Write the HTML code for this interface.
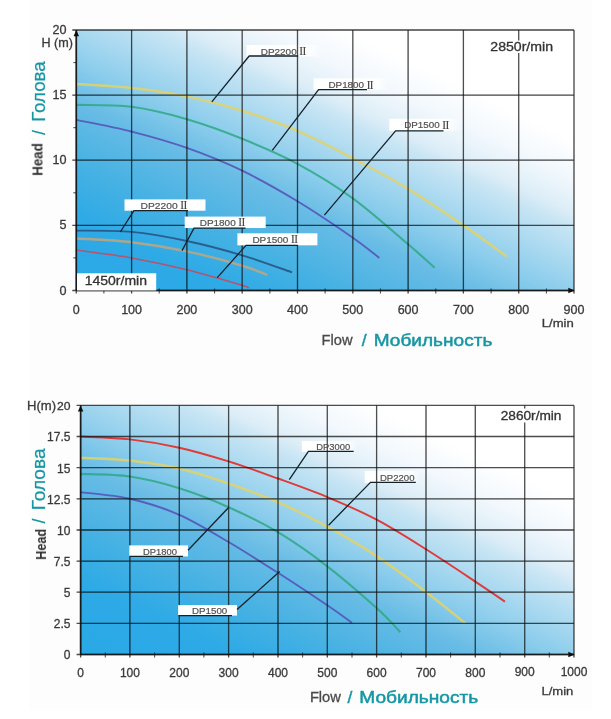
<!DOCTYPE html>
<html><head><meta charset="utf-8"><title>Pump curves</title>
<style>html,body{margin:0;padding:0;background:#fff}svg{display:block}text{font-family:"Liberation Sans",sans-serif}text.rom{font-family:"Liberation Serif",serif}</style>
</head><body>
<svg width="611" height="719" viewBox="0 0 611 719">
<defs>
<linearGradient id="g1" gradientUnits="userSpaceOnUse" x1="76.3" y1="290.5" x2="269.4" y2="-115"><stop offset="0" stop-color="#29a9e6"/><stop offset="0.15" stop-color="#2eaae6"/><stop offset="0.25" stop-color="#45b1e3"/><stop offset="0.38" stop-color="#68bce5"/><stop offset="0.46" stop-color="#8ccdec"/><stop offset="0.6" stop-color="#c8e5f4"/><stop offset="0.63" stop-color="#dcedf7"/><stop offset="0.70" stop-color="#f2f8fd"/><stop offset="0.78" stop-color="#ffffff"/></linearGradient>
<linearGradient id="g2" gradientUnits="userSpaceOnUse" x1="80.6" y1="654.5" x2="273.6" y2="249.1"><stop offset="0" stop-color="#29a9e6"/><stop offset="0.15" stop-color="#2eaae6"/><stop offset="0.25" stop-color="#45b1e3"/><stop offset="0.38" stop-color="#68bce5"/><stop offset="0.46" stop-color="#8ccdec"/><stop offset="0.6" stop-color="#c8e5f4"/><stop offset="0.63" stop-color="#dcedf7"/><stop offset="0.70" stop-color="#f2f8fd"/><stop offset="0.78" stop-color="#ffffff"/></linearGradient>
<linearGradient id="fade" x1="0" y1="0" x2="1" y2="0"><stop offset="0" stop-color="#fff" stop-opacity="1"/><stop offset="0.8" stop-color="#fff" stop-opacity="1"/><stop offset="1" stop-color="#fff" stop-opacity="0"/></linearGradient>
<filter id="b" x="-5%" y="-5%" width="110%" height="110%"><feGaussianBlur stdDeviation="0.45"/></filter>
<filter id="b2" x="-5%" y="-5%" width="110%" height="110%"><feGaussianBlur stdDeviation="0.6"/></filter>
<filter id="tb" x="-5%" y="-20%" width="110%" height="140%"><feGaussianBlur stdDeviation="0.35"/></filter>
</defs>
<rect width="611" height="719" fill="#fff"/>
<rect x="29" y="0" width="563" height="710" fill="#fdfdfd"/>
<rect x="76.3" y="30.0" width="497.7" height="260.5" fill="url(#g1)"/>
<rect x="246.6" y="45.0" width="76.0" height="11.5" fill="url(#fade)"/>
<rect x="313.6" y="78.3" width="76.0" height="11.7" fill="url(#fade)"/>
<rect x="389.3" y="118.8" width="72.0" height="12.1" fill="url(#fade)"/>
<g filter="url(#b2)">
<path d="M76.3,84.1 C85.5,84.7 113.2,85.9 131.6,88.0 C150.0,90.0 168.5,92.6 186.9,96.4 C205.3,100.2 223.8,105.0 242.2,110.8 C260.6,116.5 279.1,123.0 297.5,130.9 C315.9,138.9 334.4,148.6 352.8,158.3 C371.2,168.0 389.7,177.7 408.1,188.9 C426.5,200.1 446.9,214.1 463.4,225.4 C479.9,236.7 499.8,251.4 507.1,256.6" fill="none" stroke="#e3d266" stroke-width="2.5" stroke-linecap="butt" stroke-opacity="0.85"/>
<path d="M76.3,104.9 C85.5,105.2 113.2,104.5 131.6,106.8 C150.0,109.2 168.5,113.9 186.9,119.2 C205.3,124.5 223.8,131.3 242.2,138.8 C260.6,146.2 279.1,153.8 297.5,163.8 C315.9,173.7 334.4,184.9 352.8,198.3 C371.2,211.7 394.5,232.7 408.1,244.3 C421.7,255.8 430.2,263.8 434.6,267.7" fill="none" stroke="#2fa884" stroke-width="2.1" stroke-linecap="butt" stroke-opacity="0.85"/>
<path d="M76.3,119.9 C85.5,121.8 113.2,126.9 131.6,131.6 C150.0,136.3 168.5,141.4 186.9,147.9 C205.3,154.4 223.8,161.8 242.2,170.7 C260.6,179.6 279.1,190.1 297.5,201.3 C315.9,212.5 339.2,228.3 352.8,237.7 C366.4,247.2 374.9,254.6 379.3,257.9" fill="none" stroke="#5450b6" stroke-width="1.9" stroke-linecap="butt" stroke-opacity="0.85"/>
<path d="M76.3,230.6 C85.5,230.8 113.2,230.2 131.6,231.9 C150.0,233.6 168.5,237.1 186.9,241.0 C205.3,244.9 224.7,250.1 242.2,255.3 C259.7,260.5 283.7,269.4 292.0,272.3" fill="none" stroke="#27507f" stroke-width="1.9" stroke-linecap="butt" stroke-opacity="0.85"/>
<path d="M76.3,238.4 C85.5,239.1 113.2,240.1 131.6,242.3 C150.0,244.5 168.5,247.5 186.9,251.4 C205.3,255.3 228.8,261.8 242.2,265.8 C255.6,269.7 262.9,273.4 267.1,274.9" fill="none" stroke="#c2a67e" stroke-width="2.5" stroke-linecap="butt" stroke-opacity="0.85"/>
<path d="M76.3,250.1 C85.5,251.4 113.2,254.7 131.6,257.9 C150.0,261.2 168.5,265.1 186.9,269.7 C205.3,274.2 232.1,282.3 242.2,285.3 C252.3,288.3 246.8,287.5 247.7,287.9" fill="none" stroke="#cc4458" stroke-width="1.5" stroke-linecap="butt" stroke-opacity="0.85"/>
</g>
<g filter="url(#b)" stroke-opacity="0.74">
<line x1="76.3" y1="30.0" x2="76.3" y2="293.5" stroke="#0c0c0c" stroke-width="1.3"/>
<line x1="131.6" y1="30.0" x2="131.6" y2="293.5" stroke="#0c0c0c" stroke-width="1.3"/>
<line x1="186.9" y1="30.0" x2="186.9" y2="293.5" stroke="#0c0c0c" stroke-width="1.3"/>
<line x1="242.2" y1="30.0" x2="242.2" y2="293.5" stroke="#0c0c0c" stroke-width="1.3"/>
<line x1="297.5" y1="30.0" x2="297.5" y2="293.5" stroke="#0c0c0c" stroke-width="1.3"/>
<line x1="352.8" y1="30.0" x2="352.8" y2="293.5" stroke="#0c0c0c" stroke-width="1.3"/>
<line x1="408.1" y1="30.0" x2="408.1" y2="293.5" stroke="#0c0c0c" stroke-width="1.3"/>
<line x1="463.4" y1="30.0" x2="463.4" y2="293.5" stroke="#0c0c0c" stroke-width="1.3"/>
<line x1="518.7" y1="30.0" x2="518.7" y2="293.5" stroke="#0c0c0c" stroke-width="1.3"/>
<line x1="574.0" y1="30.0" x2="574.0" y2="293.5" stroke="#0c0c0c" stroke-width="1.3"/>
<line x1="72.3" y1="290.5" x2="574.0" y2="290.5" stroke="#0c0c0c" stroke-width="1.3"/>
<line x1="72.3" y1="225.4" x2="574.0" y2="225.4" stroke="#0c0c0c" stroke-width="1.3"/>
<line x1="72.3" y1="160.2" x2="574.0" y2="160.2" stroke="#0c0c0c" stroke-width="1.3"/>
<line x1="72.3" y1="95.1" x2="574.0" y2="95.1" stroke="#0c0c0c" stroke-width="1.3"/>
<line x1="72.3" y1="30.0" x2="574.0" y2="30.0" stroke="#0c0c0c" stroke-width="1.3"/>
<line x1="103.9" y1="288.5" x2="103.9" y2="293.5" stroke="#0c0c0c" stroke-width="1"/>
<line x1="159.2" y1="288.5" x2="159.2" y2="293.5" stroke="#0c0c0c" stroke-width="1"/>
<line x1="214.6" y1="288.5" x2="214.6" y2="293.5" stroke="#0c0c0c" stroke-width="1"/>
<line x1="269.9" y1="288.5" x2="269.9" y2="293.5" stroke="#0c0c0c" stroke-width="1"/>
<line x1="325.1" y1="288.5" x2="325.1" y2="293.5" stroke="#0c0c0c" stroke-width="1"/>
<line x1="380.4" y1="288.5" x2="380.4" y2="293.5" stroke="#0c0c0c" stroke-width="1"/>
<line x1="435.8" y1="288.5" x2="435.8" y2="293.5" stroke="#0c0c0c" stroke-width="1"/>
<line x1="491.1" y1="288.5" x2="491.1" y2="293.5" stroke="#0c0c0c" stroke-width="1"/>
<line x1="546.4" y1="288.5" x2="546.4" y2="293.5" stroke="#0c0c0c" stroke-width="1"/>
<line x1="73.3" y1="257.9" x2="76.3" y2="257.9" stroke="#0c0c0c" stroke-width="1"/>
<line x1="73.3" y1="192.8" x2="76.3" y2="192.8" stroke="#0c0c0c" stroke-width="1"/>
<line x1="73.3" y1="127.7" x2="76.3" y2="127.7" stroke="#0c0c0c" stroke-width="1"/>
<line x1="73.3" y1="62.6" x2="76.3" y2="62.6" stroke="#0c0c0c" stroke-width="1"/>
<line x1="76.3" y1="30.0" x2="76.3" y2="290.5" stroke="#0c0c0c" stroke-width="1.7"/>
<line x1="76.3" y1="290.5" x2="574.0" y2="290.5" stroke="#0c0c0c" stroke-width="1.6"/>
<path d="M76.3,30.0 l-2.7,6.2 h5.4z" fill="#0c0c0c"/>
<path d="M574.5,290.5 l-6.2,-2.7 v5.4z" fill="#0c0c0c"/>
<rect x="488.0" y="40.5" width="68.0" height="12.5" fill="#fff"/>
<rect x="124.5" y="199.4" width="81.0" height="11.3" fill="#fff"/>
<rect x="184.7" y="216.6" width="81.0" height="11.4" fill="#fff"/>
<rect x="237.4" y="233.3" width="80.0" height="12.0" fill="#fff"/>
<rect x="77.0" y="273.3" width="79.2" height="17.2" fill="#fff"/>
<polyline points="298.2,56 249.2,56 211.8,101.8" fill="none" stroke="#14222c" stroke-width="1.3" stroke-opacity="1"/>
<polyline points="367,89.6 318.6,89.6 272.3,150.3" fill="none" stroke="#14222c" stroke-width="1.3" stroke-opacity="1"/>
<polyline points="443.5,130.9 395.6,130.9 324.4,215.2" fill="none" stroke="#14222c" stroke-width="1.3" stroke-opacity="1"/>
<polyline points="188,210.7 133.9,210.7 120.3,232" fill="none" stroke="#14222c" stroke-width="1.3" stroke-opacity="1"/>
<polyline points="245.5,228.2 194,228.2 182,250.6" fill="none" stroke="#14222c" stroke-width="1.3" stroke-opacity="1"/>
<polyline points="298,245.3 246,245.3 217.3,277.6" fill="none" stroke="#14222c" stroke-width="1.3" stroke-opacity="1"/>
</g>
<g filter="url(#tb)">
<text x="66.5" y="294.7" font-size="12.6" fill="#3a3a3a" stroke="#3a3a3a" stroke-width="0.3" text-anchor="end">0</text>
<text x="66.5" y="229.4" font-size="12.6" fill="#3a3a3a" stroke="#3a3a3a" stroke-width="0.3" text-anchor="end">5</text>
<text x="66.5" y="164.2" font-size="12.6" fill="#3a3a3a" stroke="#3a3a3a" stroke-width="0.3" text-anchor="end">10</text>
<text x="66.5" y="99.0" font-size="12.6" fill="#3a3a3a" stroke="#3a3a3a" stroke-width="0.3" text-anchor="end">15</text>
<text x="66.5" y="33.7" font-size="12.6" fill="#3a3a3a" stroke="#3a3a3a" stroke-width="0.3" text-anchor="end">20</text>
<text x="41.5" y="47" font-size="12" fill="#3a3a3a" stroke="#3a3a3a" stroke-width="0.3" textLength="31.5" lengthAdjust="spacingAndGlyphs">H (m)</text>
<text x="76.3" y="313.8" font-size="12.5" fill="#3a3a3a" stroke="#3a3a3a" stroke-width="0.3" text-anchor="middle">0</text>
<text x="131.6" y="313.8" font-size="12.5" fill="#3a3a3a" stroke="#3a3a3a" stroke-width="0.3" text-anchor="middle">100</text>
<text x="186.9" y="313.8" font-size="12.5" fill="#3a3a3a" stroke="#3a3a3a" stroke-width="0.3" text-anchor="middle">200</text>
<text x="242.2" y="313.8" font-size="12.5" fill="#3a3a3a" stroke="#3a3a3a" stroke-width="0.3" text-anchor="middle">300</text>
<text x="297.5" y="313.8" font-size="12.5" fill="#3a3a3a" stroke="#3a3a3a" stroke-width="0.3" text-anchor="middle">400</text>
<text x="352.8" y="313.8" font-size="12.5" fill="#3a3a3a" stroke="#3a3a3a" stroke-width="0.3" text-anchor="middle">500</text>
<text x="408.1" y="313.8" font-size="12.5" fill="#3a3a3a" stroke="#3a3a3a" stroke-width="0.3" text-anchor="middle">600</text>
<text x="463.4" y="313.8" font-size="12.5" fill="#3a3a3a" stroke="#3a3a3a" stroke-width="0.3" text-anchor="middle">700</text>
<text x="518.7" y="313.8" font-size="12.5" fill="#3a3a3a" stroke="#3a3a3a" stroke-width="0.3" text-anchor="middle">800</text>
<text x="574.0" y="313.8" font-size="12.5" fill="#3a3a3a" stroke="#3a3a3a" stroke-width="0.3" text-anchor="middle">900</text>
<text x="541.8" y="326.8" font-size="11.5" fill="#3a3a3a" stroke="#3a3a3a" stroke-width="0.3" textLength="32" lengthAdjust="spacingAndGlyphs">L/min</text>
<text x="490.3" y="51" font-size="12.5" fill="#333" stroke="#333" stroke-width="0.3" textLength="62.7" lengthAdjust="spacingAndGlyphs">2850r/min</text>
<text x="84.7" y="285.2" font-size="12.1" fill="#333" stroke="#333" stroke-width="0.3" textLength="62.3" lengthAdjust="spacingAndGlyphs">1450r/min</text>
<text x="260.7" y="54.6" font-size="9.8" fill="#505050" stroke="#505050" stroke-width="0.2"><tspan textLength="36" lengthAdjust="spacingAndGlyphs">DP2200</tspan></text>
<text x="299.09999999999997" y="55.0" font-size="12.8" fill="#454545" class="rom" letter-spacing="-1.1">II</text>
<text x="328.5" y="88.3" font-size="9.8" fill="#505050" stroke="#505050" stroke-width="0.2"><tspan textLength="35.5" lengthAdjust="spacingAndGlyphs">DP1800</tspan></text>
<text x="366.4" y="88.7" font-size="12.8" fill="#454545" class="rom" letter-spacing="-1.1">II</text>
<text x="404.2" y="128.3" font-size="9.8" fill="#505050" stroke="#505050" stroke-width="0.2"><tspan textLength="35.5" lengthAdjust="spacingAndGlyphs">DP1500</tspan></text>
<text x="442.09999999999997" y="128.70000000000002" font-size="12.8" fill="#454545" class="rom" letter-spacing="-1.1">II</text>
<text x="140.6" y="208.6" font-size="9.8" fill="#505050" stroke="#505050" stroke-width="0.2"><tspan textLength="37" lengthAdjust="spacingAndGlyphs">DP2200</tspan></text>
<text x="180.0" y="209.0" font-size="12.8" fill="#454545" class="rom" letter-spacing="-1.1">II</text>
<text x="199.7" y="225.6" font-size="9.8" fill="#505050" stroke="#505050" stroke-width="0.2"><tspan textLength="36" lengthAdjust="spacingAndGlyphs">DP1800</tspan></text>
<text x="238.1" y="226.0" font-size="12.8" fill="#454545" class="rom" letter-spacing="-1.1">II</text>
<text x="252.4" y="242.8" font-size="9.8" fill="#505050" stroke="#505050" stroke-width="0.2"><tspan textLength="36" lengthAdjust="spacingAndGlyphs">DP1500</tspan></text>
<text x="290.79999999999995" y="243.20000000000002" font-size="12.8" fill="#454545" class="rom" letter-spacing="-1.1">II</text>
</g>
<text transform="translate(44.6,121.8) rotate(-90)" font-size="18" fill="#1596a4" stroke="#1596a4" stroke-width="0.25" stroke-linejoin="round" textLength="60.5" lengthAdjust="spacingAndGlyphs">Голова</text>
<text transform="translate(44.6,135) rotate(-90)" font-size="18" fill="#1596a4" stroke="#1596a4" stroke-width="0.25" stroke-linejoin="round">/</text>
<text transform="translate(42.5,175.8) rotate(-90)" font-size="15" fill="#303030" font-weight="bold" textLength="32.6" lengthAdjust="spacingAndGlyphs" filter="url(#tb)">Head</text>
<text x="321.5" y="345.2" font-size="14.5" fill="#4a4a4a" stroke="#4a4a4a" stroke-width="0.3" textLength="31" lengthAdjust="spacingAndGlyphs" filter="url(#tb)">Flow</text>
<text x="361.7" y="346.2" font-size="17.4" fill="#1596a4" stroke="#1596a4" stroke-width="0.5" stroke-linejoin="round">/</text>
<text x="373.8" y="346.2" font-size="17.4" fill="#1596a4" stroke="#1596a4" stroke-width="0.5" stroke-linejoin="round" textLength="118.5" lengthAdjust="spacingAndGlyphs">Мобильность</text>
<rect x="80.6" y="405.4" width="493.4" height="249.10000000000002" fill="url(#g2)"/>
<rect x="301.9" y="441.0" width="56.0" height="11.0" fill="url(#fade)"/>
<rect x="364.7" y="471.0" width="56.0" height="11.8" fill="url(#fade)"/>
<g filter="url(#b2)">
<path d="M80.6,436.5 C88.8,437.0 113.5,437.5 129.9,439.4 C146.4,441.3 162.8,444.1 179.3,447.7 C195.7,451.4 212.2,456.3 228.6,461.4 C245.1,466.6 261.5,472.6 278.0,478.5 C294.4,484.4 310.9,490.2 327.3,497.1 C343.7,503.9 360.2,511.0 376.6,519.7 C393.1,528.4 409.5,538.9 426.0,549.3 C442.4,559.6 462.2,572.9 475.3,581.6 C488.5,590.4 500.0,598.2 504.9,601.6" fill="none" stroke="#e2332f" stroke-width="1.9" stroke-linecap="butt" stroke-opacity="0.95"/>
<path d="M80.6,457.7 C88.8,458.2 113.5,458.6 129.9,460.5 C146.4,462.3 162.8,464.7 179.3,468.5 C195.7,472.4 212.2,477.9 228.6,483.5 C245.1,489.1 261.5,495.0 278.0,502.2 C294.4,509.4 310.9,517.6 327.3,526.6 C343.7,535.6 360.2,545.2 376.6,556.1 C393.1,567.0 411.2,580.6 426.0,591.9 C440.8,603.1 458.9,618.1 465.5,623.4" fill="none" stroke="#e3d266" stroke-width="2.5" stroke-linecap="butt" stroke-opacity="0.85"/>
<path d="M80.6,473.9 C88.8,474.3 113.5,474.1 129.9,476.5 C146.4,478.9 162.8,483.1 179.3,488.2 C195.7,493.3 212.2,499.8 228.6,507.2 C245.1,514.5 261.5,522.3 278.0,532.2 C294.4,542.1 310.9,553.7 327.3,566.3 C343.7,579.0 364.5,597.1 376.6,608.0 C388.8,619.0 396.4,628.2 400.3,632.2" fill="none" stroke="#2fa884" stroke-width="2.1" stroke-linecap="butt" stroke-opacity="0.85"/>
<path d="M80.6,492.1 C88.8,493.2 113.5,495.0 129.9,498.8 C146.4,502.6 162.8,507.6 179.3,514.8 C195.7,522.0 212.2,532.4 228.6,542.0 C245.1,551.7 261.5,562.2 278.0,572.8 C294.4,583.3 315.0,597.0 327.3,605.3 C339.6,613.6 347.9,619.8 352.0,622.7" fill="none" stroke="#5450b6" stroke-width="1.9" stroke-linecap="butt" stroke-opacity="0.85"/>
</g>
<g filter="url(#b)" stroke-opacity="0.74">
<line x1="80.6" y1="405.4" x2="80.6" y2="657.5" stroke="#0c0c0c" stroke-width="1.3"/>
<line x1="129.9" y1="405.4" x2="129.9" y2="657.5" stroke="#0c0c0c" stroke-width="1.3"/>
<line x1="179.3" y1="405.4" x2="179.3" y2="657.5" stroke="#0c0c0c" stroke-width="1.3"/>
<line x1="228.6" y1="405.4" x2="228.6" y2="657.5" stroke="#0c0c0c" stroke-width="1.3"/>
<line x1="278.0" y1="405.4" x2="278.0" y2="657.5" stroke="#0c0c0c" stroke-width="1.3"/>
<line x1="327.3" y1="405.4" x2="327.3" y2="657.5" stroke="#0c0c0c" stroke-width="1.3"/>
<line x1="376.6" y1="405.4" x2="376.6" y2="657.5" stroke="#0c0c0c" stroke-width="1.3"/>
<line x1="426.0" y1="405.4" x2="426.0" y2="657.5" stroke="#0c0c0c" stroke-width="1.3"/>
<line x1="475.3" y1="405.4" x2="475.3" y2="657.5" stroke="#0c0c0c" stroke-width="1.3"/>
<line x1="524.7" y1="405.4" x2="524.7" y2="657.5" stroke="#0c0c0c" stroke-width="1.3"/>
<line x1="574.0" y1="405.4" x2="574.0" y2="657.5" stroke="#0c0c0c" stroke-width="1.3"/>
<line x1="76.6" y1="654.5" x2="574.0" y2="654.5" stroke="#0c0c0c" stroke-width="1.3"/>
<line x1="76.6" y1="623.4" x2="574.0" y2="623.4" stroke="#0c0c0c" stroke-width="1.3"/>
<line x1="76.6" y1="592.2" x2="574.0" y2="592.2" stroke="#0c0c0c" stroke-width="1.3"/>
<line x1="76.6" y1="561.1" x2="574.0" y2="561.1" stroke="#0c0c0c" stroke-width="1.3"/>
<line x1="76.6" y1="530.0" x2="574.0" y2="530.0" stroke="#0c0c0c" stroke-width="1.3"/>
<line x1="76.6" y1="498.8" x2="574.0" y2="498.8" stroke="#0c0c0c" stroke-width="1.3"/>
<line x1="76.6" y1="467.7" x2="574.0" y2="467.7" stroke="#0c0c0c" stroke-width="1.3"/>
<line x1="76.6" y1="436.5" x2="574.0" y2="436.5" stroke="#0c0c0c" stroke-width="1.3"/>
<line x1="76.6" y1="405.4" x2="574.0" y2="405.4" stroke="#0c0c0c" stroke-width="1.3"/>
<line x1="105.3" y1="652.5" x2="105.3" y2="657.5" stroke="#0c0c0c" stroke-width="1"/>
<line x1="154.6" y1="652.5" x2="154.6" y2="657.5" stroke="#0c0c0c" stroke-width="1"/>
<line x1="203.9" y1="652.5" x2="203.9" y2="657.5" stroke="#0c0c0c" stroke-width="1"/>
<line x1="253.3" y1="652.5" x2="253.3" y2="657.5" stroke="#0c0c0c" stroke-width="1"/>
<line x1="302.6" y1="652.5" x2="302.6" y2="657.5" stroke="#0c0c0c" stroke-width="1"/>
<line x1="352.0" y1="652.5" x2="352.0" y2="657.5" stroke="#0c0c0c" stroke-width="1"/>
<line x1="401.3" y1="652.5" x2="401.3" y2="657.5" stroke="#0c0c0c" stroke-width="1"/>
<line x1="450.6" y1="652.5" x2="450.6" y2="657.5" stroke="#0c0c0c" stroke-width="1"/>
<line x1="500.0" y1="652.5" x2="500.0" y2="657.5" stroke="#0c0c0c" stroke-width="1"/>
<line x1="549.3" y1="652.5" x2="549.3" y2="657.5" stroke="#0c0c0c" stroke-width="1"/>
<line x1="80.6" y1="405.4" x2="80.6" y2="654.5" stroke="#0c0c0c" stroke-width="1.7"/>
<line x1="80.6" y1="654.5" x2="574.0" y2="654.5" stroke="#0c0c0c" stroke-width="1.6"/>
<path d="M80.6,405.4 l-2.7,6.2 h5.4z" fill="#0c0c0c"/>
<path d="M574.5,654.5 l-6.2,-2.7 v5.4z" fill="#0c0c0c"/>
<rect x="129.2" y="545.4" width="58.8" height="11.0" fill="#fff"/>
<rect x="178.1" y="605.1" width="58.9" height="10.5" fill="#fff"/>
<rect x="498.0" y="408.5" width="66.0" height="14.0" fill="#fff"/>
<polyline points="353.7,451.4 308.4,451.4 289.3,479.7" fill="none" stroke="#14222c" stroke-width="1.3" stroke-opacity="1"/>
<polyline points="415.8,482.3 370.5,482.3 328.6,525.2" fill="none" stroke="#14222c" stroke-width="1.3" stroke-opacity="1"/>
<polyline points="129.5,556.4 183,556.4" fill="none" stroke="#14222c" stroke-width="1.3" stroke-opacity="1"/>
<polyline points="188,550.2 228.6,507.5" fill="none" stroke="#14222c" stroke-width="1.3" stroke-opacity="1"/>
<polyline points="178.3,615.6 232,615.6" fill="none" stroke="#14222c" stroke-width="1.3" stroke-opacity="1"/>
<polyline points="237,609.6 279.7,571.6" fill="none" stroke="#14222c" stroke-width="1.3" stroke-opacity="1"/>
</g>
<g filter="url(#tb)">
<text x="70.4" y="659.4" font-size="12" fill="#3a3a3a" stroke="#3a3a3a" stroke-width="0.3" text-anchor="end">0</text>
<text x="70.4" y="628.3" font-size="12" fill="#3a3a3a" stroke="#3a3a3a" stroke-width="0.3" text-anchor="end">2.5</text>
<text x="70.4" y="597.1" font-size="12" fill="#3a3a3a" stroke="#3a3a3a" stroke-width="0.3" text-anchor="end">5</text>
<text x="70.4" y="566.0" font-size="12" fill="#3a3a3a" stroke="#3a3a3a" stroke-width="0.3" text-anchor="end">7.5</text>
<text x="70.4" y="534.9" font-size="12" fill="#3a3a3a" stroke="#3a3a3a" stroke-width="0.3" text-anchor="end">10</text>
<text x="70.4" y="503.7" font-size="12" fill="#3a3a3a" stroke="#3a3a3a" stroke-width="0.3" text-anchor="end">12.5</text>
<text x="70.4" y="472.6" font-size="12" fill="#3a3a3a" stroke="#3a3a3a" stroke-width="0.3" text-anchor="end">15</text>
<text x="70.4" y="441.4" font-size="12" fill="#3a3a3a" stroke="#3a3a3a" stroke-width="0.3" text-anchor="end">17.5</text>
<text x="27" y="410.1" font-size="12.3" fill="#3a3a3a" stroke="#3a3a3a" stroke-width="0.3" textLength="29" lengthAdjust="spacingAndGlyphs">H(m)</text>
<text x="57" y="410.1" font-size="11.5" fill="#3a3a3a" stroke="#3a3a3a" stroke-width="0.3" textLength="13.5" lengthAdjust="spacingAndGlyphs">20</text>
<text x="80.6" y="677.3" font-size="12" fill="#3a3a3a" stroke="#3a3a3a" stroke-width="0.3" text-anchor="middle">0</text>
<text x="129.9" y="677.2" font-size="12" fill="#3a3a3a" stroke="#3a3a3a" stroke-width="0.3" text-anchor="middle">100</text>
<text x="179.3" y="677.1" font-size="12" fill="#3a3a3a" stroke="#3a3a3a" stroke-width="0.3" text-anchor="middle">200</text>
<text x="228.6" y="677.0" font-size="12" fill="#3a3a3a" stroke="#3a3a3a" stroke-width="0.3" text-anchor="middle">300</text>
<text x="278.0" y="676.9" font-size="12" fill="#3a3a3a" stroke="#3a3a3a" stroke-width="0.3" text-anchor="middle">400</text>
<text x="327.3" y="676.8" font-size="12" fill="#3a3a3a" stroke="#3a3a3a" stroke-width="0.3" text-anchor="middle">500</text>
<text x="376.6" y="676.7" font-size="12" fill="#3a3a3a" stroke="#3a3a3a" stroke-width="0.3" text-anchor="middle">600</text>
<text x="426.0" y="676.6" font-size="12" fill="#3a3a3a" stroke="#3a3a3a" stroke-width="0.3" text-anchor="middle">700</text>
<text x="475.3" y="676.5" font-size="12" fill="#3a3a3a" stroke="#3a3a3a" stroke-width="0.3" text-anchor="middle">800</text>
<text x="524.7" y="676.4" font-size="12" fill="#3a3a3a" stroke="#3a3a3a" stroke-width="0.3" text-anchor="middle">900</text>
<text x="574.0" y="676.3" font-size="12" fill="#3a3a3a" stroke="#3a3a3a" stroke-width="0.3" text-anchor="middle">1000</text>
<text x="541.4" y="694.6" font-size="11.5" fill="#3a3a3a" stroke="#3a3a3a" stroke-width="0.3" textLength="32" lengthAdjust="spacingAndGlyphs">L/min</text>
<text x="500.7" y="419.8" font-size="12.5" fill="#333" stroke="#333" stroke-width="0.3" textLength="60.8" lengthAdjust="spacingAndGlyphs">2860r/min</text>
<text x="316.3" y="449.6" font-size="9.8" fill="#505050" stroke="#505050" stroke-width="0.2"><tspan textLength="34" lengthAdjust="spacingAndGlyphs">DP3000</tspan></text>
<text x="379.9" y="480.7" font-size="9.8" fill="#505050" stroke="#505050" stroke-width="0.2"><tspan textLength="34.6" lengthAdjust="spacingAndGlyphs">DP2200</tspan></text>
<text x="143" y="554.6" font-size="9.8" fill="#505050" stroke="#505050" stroke-width="0.2"><tspan textLength="34" lengthAdjust="spacingAndGlyphs">DP1800</tspan></text>
<text x="192" y="614" font-size="9.8" fill="#505050" stroke="#505050" stroke-width="0.2"><tspan textLength="35.3" lengthAdjust="spacingAndGlyphs">DP1500</tspan></text>
</g>
<text transform="translate(45.2,510.2) rotate(-90)" font-size="18" fill="#1596a4" stroke="#1596a4" stroke-width="0.25" stroke-linejoin="round" textLength="61.7" lengthAdjust="spacingAndGlyphs">Голова</text>
<text transform="translate(45.2,523.5) rotate(-90)" font-size="18" fill="#1596a4" stroke="#1596a4" stroke-width="0.25" stroke-linejoin="round">/</text>
<text transform="translate(46,559.8) rotate(-90)" font-size="15" fill="#303030" font-weight="bold" textLength="31" lengthAdjust="spacingAndGlyphs" filter="url(#tb)">Head</text>
<text x="309.9" y="702.4" font-size="14.5" fill="#4a4a4a" stroke="#4a4a4a" stroke-width="0.3" textLength="31" lengthAdjust="spacingAndGlyphs" filter="url(#tb)">Flow</text>
<text x="347.6" y="703" font-size="17.4" fill="#1596a4" stroke="#1596a4" stroke-width="0.5" stroke-linejoin="round">/</text>
<text x="359.3" y="703" font-size="17.4" fill="#1596a4" stroke="#1596a4" stroke-width="0.5" stroke-linejoin="round" textLength="118.9" lengthAdjust="spacingAndGlyphs">Мобильность</text>
</svg>
</body></html>
